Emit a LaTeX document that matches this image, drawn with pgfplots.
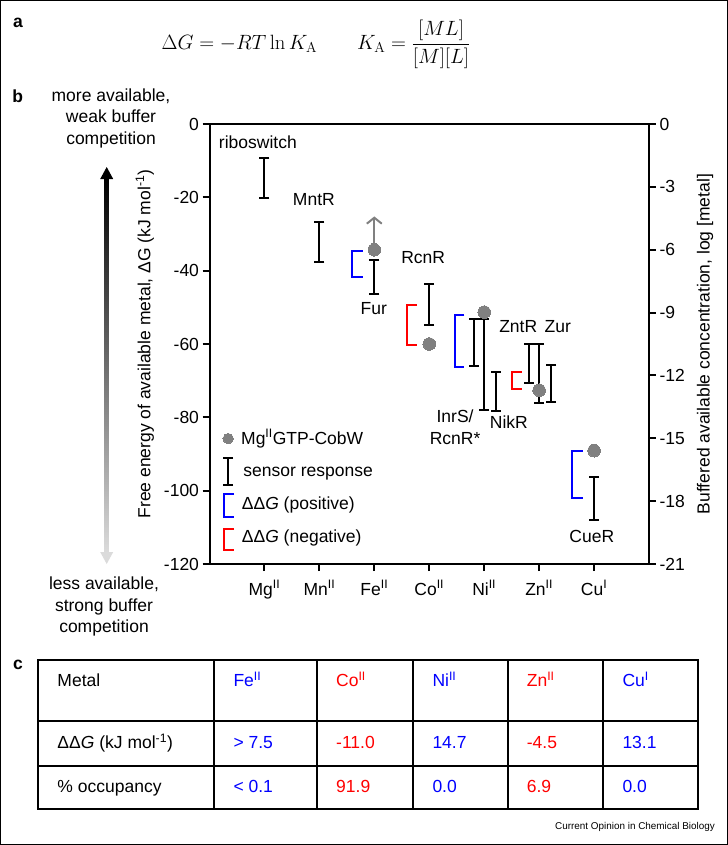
\documentclass[border=0pt]{standalone}
\usepackage[no-math]{fontspec}
\setmainfont{Liberation Sans}
\usepackage{pgfplots}
\pgfplotsset{compat=1.18}
\usetikzlibrary{arrows.meta}
\definecolor{dotgrey}{RGB}{128,128,128}
\definecolor{bblue}{RGB}{0,0,255}
\definecolor{bred}{RGB}{255,0,0}
\newcommand\fs{\fontsize{17.5bp}{21.7bp}\selectfont}
\begin{document}
\begin{tikzpicture}
\useasboundingbox (0,0) rectangle (728bp,-845bp);
\begin{scope}[x=1bp,y=-1bp]
\draw[line width=1bp] (0.5,0.5) rectangle (727.5,844.5);
% panel letters
\node[font=\fs\bfseries] at (18,23) {a};
\node[font=\fs\bfseries] at (17.7,96) {b};
\node[font=\fs\bfseries] at (18,664.5) {c};
% equation
\node[font=\fontsize{20bp}{24bp}\selectfont] at (316,44) {$\Delta G = -RT\ln K_{\mathrm{A}} \qquad K_{\mathrm{A}} = \displaystyle\frac{[ML]}{[M][L]}$};
% left descriptive texts
\node[font=\fs, align=center] at (111,118.3) {more available,\\weak buffer\\competition};
\node[font=\fs, align=center] at (104,606.7) {less available,\\strong buffer\\competition};
% gradient arrow
\shade[top color=black, bottom color=black!14] (104.7,178) rectangle (108.7,553);
\fill[black] (106.7,167) -- (100.2,179) -- (113.2,179) -- cycle;
\fill[black!14] (106.7,564) -- (100.2,552) -- (113.2,552) -- cycle;
% table
\draw[line width=2bp] (38.3,660) rectangle (698.3,809.3);
\draw[line width=2bp] (38.3,721) -- (698.3,721);
\draw[line width=2bp] (38.3,766) -- (698.3,766);
\foreach \cx in {214.3,317,413,508,603.3} {\draw[line width=2bp] (\cx,660) -- (\cx,809.3);}
\begin{scope}[every node/.style={font=\fs, anchor=base west, inner sep=0pt}]
\node at (57.3,686.7) {Metal};
\node[text=bblue] at (233.3,686.7) {Fe\textsuperscript{II}};
\node[text=bred] at (336,686.7) {Co\textsuperscript{II}};
\node[text=bblue] at (432.3,686.7) {Ni\textsuperscript{II}};
\node[text=bred] at (526.7,686.7) {Zn\textsuperscript{II}};
\node[text=bblue] at (622.3,686.7) {Cu\textsuperscript{I}};
\node at (57.3,748.5) {ΔΔ\textit{G} (kJ mol\textsuperscript{-1})};
\node[text=bblue] at (233.3,748.5) {> 7.5};
\node[text=bred] at (336,748.5) {-11.0};
\node[text=bblue] at (432.3,748.5) {14.7};
\node[text=bred] at (526.7,748.5) {-4.5};
\node[text=bblue] at (622.3,748.5) {13.1};
\node at (57.3,792.5) {\% occupancy};
\node[text=bblue] at (233.3,792.5) {< 0.1};
\node[text=bred] at (336,792.5) {91.9};
\node[text=bblue] at (432.3,792.5) {0.0};
\node[text=bred] at (526.7,792.5) {6.9};
\node[text=bblue] at (622.3,792.5) {0.0};
\end{scope}
\node[font=\fontsize{9.9bp}{12bp}\selectfont, anchor=base east, inner sep=0pt] at (715,829.5) {Current Opinion in Chemical Biology};
\end{scope}

% main axis
\begin{axis}[
  at={(209.5bp,-564bp)}, anchor=south west,
  scale only axis, width=439.5bp, height=440bp,
  xmin=0, xmax=8, ymin=-120, ymax=0,
  xtick={1,2,3,4,5,6,7},
  xticklabels={Mg\textsuperscript{II},Mn\textsuperscript{II},Fe\textsuperscript{II},Co\textsuperscript{II},Ni\textsuperscript{II},Zn\textsuperscript{II},Cu\textsuperscript{I}},
  xticklabel style={yshift=-6bp},
  ytick={0,-20,-40,-60,-80,-100,-120},
  xtick pos=left, ytick pos=left,
  tick align=outside,
  major tick length=7bp,
  axis line style={line width=2bp},
  tick style={line width=2bp, black},
  tick label style={font=\fs},
  /pgf/number format/assume math mode=true,
  ylabel={Free energy of available metal, ΔG (kJ mol\textsuperscript{-1})},
  ylabel style={font=\fs, at={(axis description cs:-0.147,0.5)}, anchor=center},
  clip=false,
  sensor/.style={black, line width=2bp, mark=-, mark size=5bp, mark options={line width=2bp, solid}},
  bracket/.style={line width=2bp},
  cobw/.style={only marks, mark=*, color=dotgrey, mark options={draw=dotgrey, fill=dotgrey, line width=0pt}},
]
% sensor response bars: (x, top) (x, bottom)
\addplot[sensor] coordinates {(1,-9.4) (1,-20.2)};     % riboswitch
\addplot[sensor] coordinates {(2,-26.6) (2,-37.5)};    % MntR
\addplot[sensor] coordinates {(3,-37.1) (3,-46.3)};    % Fur
\addplot[sensor] coordinates {(4,-43.5) (4,-54.7)};    % RcnR
\addplot[sensor] coordinates {(4.81,-53.2) (4.81,-65.9)}; % InrS
\addplot[sensor] coordinates {(5,-53.2) (5,-77.9)};    % RcnR*
\addplot[sensor] coordinates {(5.21,-67.5) (5.21,-78.2)}; % NikR
\addplot[sensor] coordinates {(5.82,-59.9) (5.82,-70.6)}; % ZntR
\addplot[sensor] coordinates {(6,-59.9) (6,-76.1)};    % Zur
\addplot[sensor] coordinates {(6.22,-65.6) (6.22,-75.9)};
\addplot[sensor] coordinates {(7,-96.4) (7,-107.9)};   % CueR
\addplot[sensor] coordinates {(0.34,-91.1) (0.34,-98.4)}; % legend
% blue brackets (positive DDG)
\addplot[bracket, bblue] coordinates {(2.79,-34.5) (2.59,-34.5) (2.59,-41.8) (2.79,-41.8)};
\addplot[bracket, bblue] coordinates {(4.64,-52.2) (4.47,-52.2) (4.47,-66.4) (4.64,-66.4)};
\addplot[bracket, bblue] coordinates {(6.79,-89.3) (6.60,-89.3) (6.60,-102.0) (6.79,-102.0)};
\addplot[bracket, bblue] coordinates {(0.446,-100.9) (0.27,-100.9) (0.27,-107.2) (0.446,-107.2)};
% red brackets (negative DDG)
\addplot[bracket, bred] coordinates {(3.78,-49.3) (3.60,-49.3) (3.60,-60.2) (3.78,-60.2)};
\addplot[bracket, bred] coordinates {(5.68,-67.7) (5.50,-67.7) (5.50,-72.3) (5.68,-72.3)};
\addplot[bracket, bred] coordinates {(0.446,-110.4) (0.27,-110.4) (0.27,-116.1) (0.446,-116.1)};
% Fe arrow
\addplot[dotgrey, line width=2bp, -{Straight Barb[length=6bp,width=15bp,line width=2bp]}] coordinates {(3,-34.3) (3,-25.2)};
% MgGTP-CobW points
\addplot[cobw, mark size=6.3bp] coordinates {(3,-34.3) (4,-60.0) (5,-51.3) (6,-72.6) (7,-89.1)};
\addplot[cobw, mark size=5.2bp] coordinates {(0.34,-85.8)};
% labels
\node[font=\fs] at (axis cs:0.88,-4.9) {riboswitch};
\node[font=\fs] at (axis cs:1.90,-20.6) {MntR};
\node[font=\fs] at (axis cs:2.99,-50.4) {Fur};
\node[font=\fs] at (axis cs:3.89,-36.5) {RcnR};
\node[font=\fs, align=center] at (axis cs:4.47,-82.7) {InrS/\\RcnR*};
\node[font=\fs] at (axis cs:5.45,-81.2) {NikR};
\node[font=\fs] at (axis cs:5.62,-55.2) {ZntR};
\node[font=\fs] at (axis cs:6.34,-55.2) {Zur};
\node[font=\fs] at (axis cs:6.96,-112.5) {CueR};
% legend texts
\node[font=\fs, anchor=west, inner sep=0pt] at (axis cs:0.573,-85.8) {Mg\textsuperscript{II}GTP-CobW};
\node[font=\fs, anchor=west, inner sep=0pt] at (axis cs:0.615,-95.4) {sensor response};
\node[font=\fs, anchor=west, inner sep=0pt] at (axis cs:0.586,-103.8) {ΔΔ\textit{G} (positive)};
\node[font=\fs, anchor=west, inner sep=0pt] at (axis cs:0.586,-112.9) {ΔΔ\textit{G} (negative)};
\end{axis}

% right axis
\begin{axis}[
  at={(209.5bp,-564bp)}, anchor=south west,
  scale only axis, width=439.5bp, height=440bp,
  xmin=0, xmax=8, ymin=-21, ymax=0,
  axis x line=none, axis y line*=right,
  ytick={0,-3,-6,-9,-12,-15,-18,-21},
  tick align=outside, major tick length=7bp,
  axis line style={line width=2bp},
  tick style={line width=2bp, black},
  tick label style={font=\fs},
  /pgf/number format/assume math mode=true,
  ylabel={Buffered available concentration, log [metal]},
  ylabel style={font=\fs, at={(axis description cs:1.1274,0.5)}, anchor=center, rotate=0},
]
\addplot[draw=none, forget plot] coordinates {(0,-21) (8,0)};
\end{axis}
\end{tikzpicture}
\end{document}
